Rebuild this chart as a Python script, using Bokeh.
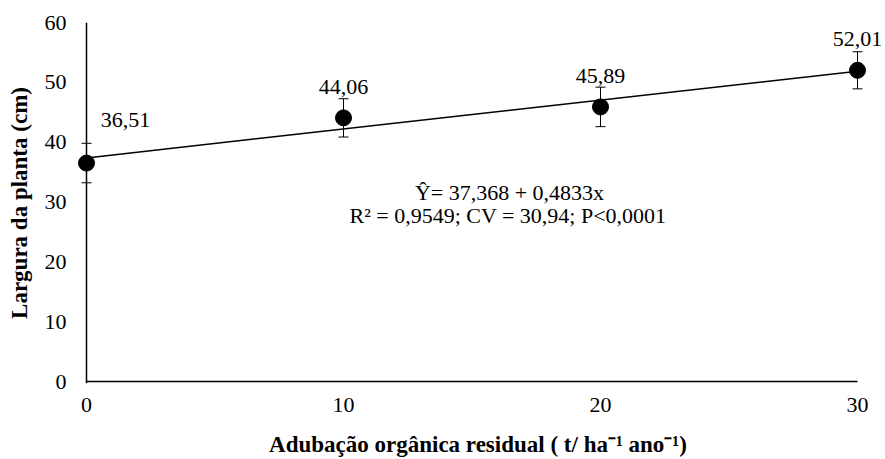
from bokeh.plotting import figure
from bokeh.models import Range1d, Span, Label, ColumnDataSource, Whisker, TeeHead, FixedTicker
from bokeh.embed import file_html
from bokeh.resources import INLINE

# ---- data ----
doses = [0, 10, 20, 30]
largura = [36.51, 44.06, 45.89, 52.01]
erro = [3.3, 3.2, 3.3, 3.1]
rotulos = ["36,51", "44,06", "45,89", "52,01"]
intercepto = 37.368
inclinacao = 0.4833
x_ticks = [0, 10, 20, 30]
y_ticks = [0, 10, 20, 30, 40, 50, 60]
equacao = "Ŷ= 37,368 + 0,4833x"
estatisticas = "R² = 0,9549; CV = 30,94; P<0,0001"
x_titulo = "Adubação orgânica residual ( t/ ha⁻¹ ano⁻¹)"
y_titulo = "Largura da planta (cm)"

FONT = "Liberation Serif"
W, H = 885, 459
f_left, f_right, f_top, f_bottom = 70, 885, 22, 384
ax0_px, ax1_px = 86, 857      # pixel positions of first and last x tick
y0_px = 382                   # pixel of y=0

span = (x_ticks[-1] - x_ticks[0]) * (f_right - f_left) / (ax1_px - ax0_px)
xs = x_ticks[0] - (ax0_px - f_left) * span / (f_right - f_left)
xe = xs + span
ppu_y = (y0_px - f_top) / (y_ticks[-1] - y_ticks[0])
ys = y_ticks[0] - (f_bottom - y0_px) / ppu_y

p = figure(width=W, height=H, output_backend="svg", toolbar_location=None,
           x_range=Range1d(xs, xe), y_range=Range1d(ys, y_ticks[-1]),
           min_border_left=f_left, min_border_right=W - f_right,
           min_border_top=f_top, min_border_bottom=H - f_bottom)
p.outline_line_color = None
p.grid.visible = False
p.background_fill_color = "white"
p.border_fill_color = "white"

for ax in (p.xaxis[0], p.yaxis[0]):
    ax.axis_line_color = None
    ax.major_tick_line_color = None
    ax.minor_tick_line_color = None
    ax.major_tick_out = 0
    ax.major_tick_in = 0
    ax.major_label_text_font = FONT
    ax.major_label_text_font_size = "22px"
    ax.major_label_text_color = "black"
    ax.axis_label_text_font = FONT
    ax.axis_label_text_font_style = "bold"
    ax.axis_label_text_color = "black"

p.xaxis.axis_label_text_font_size = "23px"
p.yaxis.axis_label_text_font_size = "23px"
p.xaxis.ticker = FixedTicker(ticks=x_ticks)
p.yaxis.ticker = FixedTicker(ticks=y_ticks)
p.xaxis.major_label_standoff = 14
p.yaxis.major_label_standoff = 4
p.xaxis.axis_label = x_titulo
p.yaxis.axis_label = y_titulo
p.xaxis.axis_label_standoff = 17
p.yaxis.axis_label_standoff = 10

# axis lines
p.add_layout(Span(location=x_ticks[0], dimension="height", line_color="black", line_width=1.5))
p.segment(x0=[x_ticks[0]], y0=[y_ticks[0]], x1=[x_ticks[-1]], y1=[y_ticks[0]],
          line_color="black", line_width=1.5)

# regression line
reg_x = [x_ticks[0], x_ticks[-1]]
reg_y = [intercepto + inclinacao * v for v in reg_x]
p.line(reg_x, reg_y, line_color="black", line_width=1.5)

src = ColumnDataSource(dict(
    x=doses, y=largura, lab=rotulos,
    lower=[v - e for v, e in zip(largura, erro)],
    upper=[v + e for v, e in zip(largura, erro)],
))
p.add_layout(Whisker(source=src, base="x", lower="lower", upper="upper", dimension="height",
                     line_color="black", line_width=1,
                     upper_head=TeeHead(size=10, line_color="black", line_width=1),
                     lower_head=TeeHead(size=10, line_color="black", line_width=1)))
p.scatter("x", "y", source=src, size=16, color="black")

# data labels
first = ColumnDataSource(dict(x=doses[:1], y=largura[:1], lab=rotulos[:1]))
rest = ColumnDataSource(dict(x=doses[1:], y=largura[1:], lab=rotulos[1:]))
p.text("x", "y", text="lab", source=first, x_offset=39, y_offset=-43,
       text_align="center", text_baseline="middle", text_font_size="22px",
       text_font={"value": FONT}, text_color="black")
p.text("x", "y", text="lab", source=rest, x_offset=0, y_offset=-31,
       text_align="center", text_baseline="middle", text_font_size="22px",
       text_font={"value": FONT}, text_color="black")

# equation
p.add_layout(Label(x=16.46, y=31.6, text=equacao, text_align="center", text_baseline="middle",
                   text_font=FONT, text_font_size="22px", text_color="black"))
p.add_layout(Label(x=16.40, y=27.8, text=estatisticas, text_align="center", text_baseline="middle",
                   text_font=FONT, text_font_size="22px", text_color="black"))

open("out.html", "w").write(file_html(p, INLINE))
